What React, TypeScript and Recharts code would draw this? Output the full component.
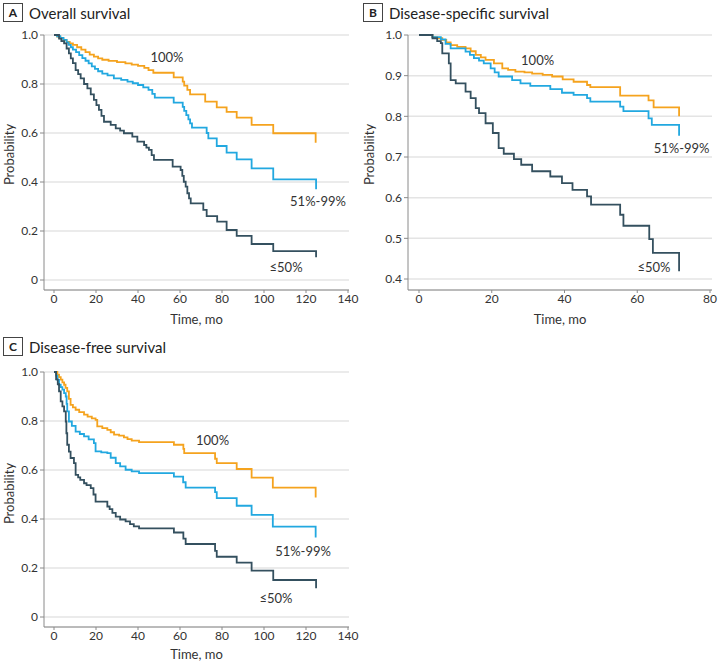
import { LineChart, Line, XAxis, YAxis, CartesianGrid, ReferenceDot } from "recharts";

// colours of the three tumour-regression groups
const ORANGE = "#F5A31E";
const BLUE = "#22A8E0";
const DARK = "#34505F";
const FONT = "Lato, 'Open Sans', sans-serif";

// A. Overall survival
const osTime100 = [0, 1.5, 3, 4.5, 6, 7.5, 9, 11, 13, 15, 17, 19, 21, 23, 26, 30, 34, 37, 40, 43, 45, 47.3, 57, 61.3, 62, 63.5, 64.8, 72, 77.5, 82.2, 87, 94.1, 104.4, 124.6];
const osSurv100 = [1, 0.993, 0.986, 0.979, 0.972, 0.966, 0.96, 0.95, 0.94, 0.93, 0.92, 0.912, 0.905, 0.899, 0.894, 0.889, 0.884, 0.879, 0.874, 0.866, 0.857, 0.846, 0.827, 0.81, 0.793, 0.776, 0.758, 0.728, 0.705, 0.686, 0.663, 0.633, 0.599, 0.56];
const osTime51 = [0, 1.5, 3, 4.5, 6, 7, 8, 9, 10.5, 12, 13.5, 15, 16.5, 18, 19.5, 21, 23, 25.5, 28.5, 32, 35, 37.5, 40, 42.5, 45, 46.8, 48, 57, 61.3, 62, 63, 64, 64.8, 65.7, 72.7, 73.5, 77.5, 82.2, 87, 94.1, 104.4, 124.8];
const osSurv51 = [1, 0.995, 0.988, 0.98, 0.97, 0.96, 0.95, 0.94, 0.93, 0.918, 0.906, 0.895, 0.884, 0.872, 0.862, 0.852, 0.842, 0.835, 0.823, 0.817, 0.81, 0.803, 0.796, 0.786, 0.776, 0.76, 0.744, 0.724, 0.707, 0.69, 0.673, 0.656, 0.639, 0.622, 0.6, 0.578, 0.547, 0.52, 0.492, 0.456, 0.411, 0.37];
const osTime50 = [0, 2.4, 3.5, 4.8, 6, 7.1, 8, 9, 10.3, 11.5, 12.7, 14.3, 15.9, 17.5, 19, 20.2, 21.4, 22.6, 23.8, 27, 29.4, 31.5, 33.3, 37.3, 39.7, 42.9, 44, 45.2, 46.5, 47.6, 56.5, 60.3, 61.1, 61.8, 62.7, 63.5, 64.3, 65.1, 71.1, 72.7, 77.7, 82.2, 87, 94.1, 104.4, 124.8];
const osSurv50 = [1, 0.985, 0.975, 0.966, 0.945, 0.925, 0.905, 0.885, 0.857, 0.84, 0.823, 0.8, 0.782, 0.758, 0.735, 0.714, 0.694, 0.67, 0.646, 0.633, 0.619, 0.61, 0.599, 0.585, 0.565, 0.551, 0.54, 0.531, 0.51, 0.49, 0.463, 0.449, 0.425, 0.401, 0.381, 0.354, 0.333, 0.313, 0.286, 0.261, 0.238, 0.204, 0.18, 0.147, 0.118, 0.093];

// B. Disease-specific survival
const dssTime100 = [0, 3.7, 5, 6.4, 7.5, 8.7, 10.5, 12.8, 14.2, 15.6, 17, 18.3, 20.6, 22.9, 24.5, 26.5, 29, 31.1, 34, 36.6, 39.5, 42.5, 46.2, 47.1, 55.3, 63.1, 64.5, 71.5];
const dssSurv100 = [1, 0.995, 0.992, 0.988, 0.982, 0.975, 0.971, 0.967, 0.96, 0.951, 0.945, 0.939, 0.93, 0.918, 0.914, 0.91, 0.908, 0.905, 0.902, 0.898, 0.891, 0.885, 0.877, 0.872, 0.851, 0.839, 0.822, 0.8];
const dssTime51 = [0, 3.7, 6, 7.3, 8.7, 12.8, 14, 15.1, 16.5, 17.8, 19.7, 20.8, 21.9, 25.6, 27.9, 30.6, 36.1, 39.3, 42.5, 46.2, 47.1, 55.3, 56.2, 63.1, 64, 71.5];
const dssSurv51 = [1, 0.995, 0.989, 0.978, 0.967, 0.959, 0.951, 0.943, 0.937, 0.93, 0.918, 0.908, 0.898, 0.889, 0.881, 0.875, 0.867, 0.858, 0.853, 0.845, 0.836, 0.824, 0.813, 0.795, 0.779, 0.752];
const dssTime50 = [0, 3.7, 5, 6, 6.4, 8.2, 8.7, 10.1, 12.8, 14.2, 15.6, 16.5, 18.3, 20.3, 21.9, 23.3, 26.1, 28.1, 31.1, 36.1, 39.3, 42.2, 46.2, 47.3, 55.3, 56.2, 63.3, 64.3, 71.5];
const dssSurv50 = [1, 0.992, 0.985, 0.98, 0.955, 0.93, 0.889, 0.881, 0.861, 0.845, 0.82, 0.808, 0.783, 0.759, 0.722, 0.708, 0.695, 0.681, 0.665, 0.652, 0.636, 0.619, 0.603, 0.583, 0.558, 0.531, 0.498, 0.464, 0.419];

// C. Disease-free survival
const dfsTime100 = [0, 1.6, 2.4, 3.2, 4, 4.8, 5.5, 6.3, 7.1, 7.9, 9, 10.3, 12, 14.3, 16, 18, 19.8, 20.6, 23, 25.4, 27, 28.6, 31, 33.3, 35, 37, 40.5, 57.1, 61.6, 62, 76.7, 77.5, 87, 94.1, 104.2, 124.6];
const dfsSurv100 = [1, 0.989, 0.979, 0.969, 0.958, 0.948, 0.935, 0.921, 0.89, 0.866, 0.856, 0.846, 0.836, 0.826, 0.818, 0.811, 0.805, 0.778, 0.771, 0.764, 0.754, 0.744, 0.74, 0.733, 0.726, 0.72, 0.714, 0.703, 0.686, 0.669, 0.646, 0.628, 0.604, 0.569, 0.528, 0.488];
const dfsTime51 = [0, 1, 1.6, 2.4, 3.2, 4, 4.8, 5.6, 6, 6.3, 7.1, 8.5, 10.3, 12.3, 14.3, 16.5, 19, 19.8, 22.5, 25.4, 27, 29.4, 31.5, 34.1, 37, 40.5, 57.1, 61.5, 62.7, 76.7, 77.5, 87, 94.1, 104.2, 124.6];
const dfsSurv51 = [1, 0.985, 0.968, 0.948, 0.938, 0.928, 0.914, 0.9, 0.87, 0.839, 0.798, 0.78, 0.757, 0.747, 0.737, 0.725, 0.71, 0.676, 0.672, 0.669, 0.65, 0.628, 0.615, 0.601, 0.594, 0.587, 0.573, 0.55, 0.528, 0.51, 0.485, 0.454, 0.417, 0.369, 0.324];
const dfsTime50 = [0, 1, 1.8, 2.4, 3.2, 4, 4.8, 5.6, 5.9, 6.3, 7.1, 7.9, 9.5, 10.3, 11.5, 12.5, 14.3, 15.5, 17.5, 18.8, 19.8, 25.4, 26.5, 27.8, 29.4, 31.5, 34.1, 36.2, 38, 40.5, 57.1, 61.6, 62.7, 76.7, 77.5, 87, 94.1, 104.4, 124.8];
const dfsSurv50 = [1, 0.97, 0.95, 0.921, 0.88, 0.86, 0.839, 0.798, 0.75, 0.703, 0.675, 0.649, 0.628, 0.58, 0.57, 0.56, 0.546, 0.538, 0.526, 0.5, 0.471, 0.451, 0.44, 0.425, 0.41, 0.398, 0.39, 0.379, 0.37, 0.362, 0.345, 0.32, 0.298, 0.27, 0.246, 0.222, 0.189, 0.151, 0.117];

const groups = ["100%", "51%-99%", "≤50%"];
const xTicks140 = [0, 20, 40, 60, 80, 100, 120, 140];
const xTicks80 = [0, 20, 40, 60, 80];
const yTicksFull = [0, 0.2, 0.4, 0.6, 0.8, 1.0];
const yTicksDss = [0.4, 0.5, 0.6, 0.7, 0.8, 0.9, 1.0];

const toRows = (t: number[], s: number[]) => t.map((v, i) => ({ t: v, s: s[i] }));

type Panel = {
  letter: string;
  title: string;
  series: { t: number[]; s: number[]; color: string }[];
  xMax: number;
  xTicks: number[];
  yMin: number;
  yTicks: number[];
  labelAt: [number, number][]; // where the group names sit, in data units
  width: number;
  height: number;
  margin: { top: number; right: number; left: number; bottom: number };
  yAxisWidth: number;
  xPad: { left: number; right: number };
  yPadBottom: number;
  xAxisHeight: number;
  yLabelShift: number;
};

function Title({ letter, title, left, top }: { letter: string; title: string; left: number; top: number }) {
  return (
    <div style={{ position: "absolute", left, top, display: "flex", alignItems: "center", fontFamily: FONT, color: "#222" }}>
      <div
        style={{
          width: 18,
          height: 17,
          border: "1px solid #444",
          display: "flex",
          alignItems: "center",
          justifyContent: "center",
          fontSize: 12,
          fontWeight: 700,
        }}
      >
        {letter}
      </div>
      <span style={{ marginLeft: 6, fontSize: 15 }}>{title}</span>
    </div>
  );
}

// rotated "Probability" title, nudged up a little from the axis middle
function ProbLabel(props: any) {
  const vb = props.viewBox || { x: 0, y: 0, width: 0, height: 0 };
  const x = vb.x + 9;
  const y = vb.y + vb.height / 2 - (props.shift || 0);
  return (
    <text
      x={x}
      y={y}
      transform={`rotate(-90, ${x}, ${y})`}
      textAnchor="middle"
      dominantBaseline="central"
      fill="#333"
      fontSize={13}
    >
      Probability
    </text>
  );
}

function SurvivalPanel({ p }: { p: Panel }) {
  return (
    <LineChart width={p.width} height={p.height} margin={p.margin} style={{ fontFamily: FONT }}>
      <CartesianGrid horizontal vertical={false} stroke="#e4e4e4" strokeWidth={1.5} />
      <XAxis
        type="number"
        dataKey="t"
        domain={[0, p.xMax]}
        ticks={p.xTicks}
        allowDuplicatedCategory={false}
        padding={p.xPad}
        height={p.xAxisHeight}
        stroke="#8a8a8a"
        tickSize={3}
        tickMargin={1}
        tick={{ fill: "#333", fontSize: 12 }}
        label={{ value: "Time, mo", position: "insideBottom", offset: 6, fill: "#333", fontSize: 13 }}
      />
      <YAxis
        type="number"
        domain={[p.yMin, 1]}
        ticks={p.yTicks}
        padding={{ top: 0, bottom: p.yPadBottom }}
        width={p.yAxisWidth}
        stroke="#8a8a8a"
        tickSize={4}
        tickMargin={2}
        tick={{ fill: "#333", fontSize: 12 }}
        tickFormatter={(v: number) => (v === 0 ? "0" : v.toFixed(1))}
        label={<ProbLabel shift={p.yLabelShift} />}
      />
      {p.series.map((sr, i) => (
        <Line
          key={i}
          data={toRows(sr.t, sr.s)}
          dataKey="s"
          type="stepAfter"
          stroke={sr.color}
          strokeWidth={1.8}
          dot={false}
          activeDot={false}
          isAnimationActive={false}
        />
      ))}
      {p.labelAt.map(([x, y], i) => (
        <ReferenceDot
          key={"l" + i}
          x={x}
          y={y}
          r={0}
          fill="none"
          stroke="none"
          label={{ value: groups[i], position: "center", fill: "#333", fontSize: 13 }}
        />
      ))}
    </LineChart>
  );
}

const panelA: Panel = {
  letter: "A",
  title: "Overall survival",
  series: [
    { t: osTime100, s: osSurv100, color: ORANGE },
    { t: osTime51, s: osSurv51, color: BLUE },
    { t: osTime50, s: osSurv50, color: DARK },
  ],
  xMax: 140,
  xTicks: xTicks140,
  yMin: 0,
  yTicks: yTicksFull,
  labelAt: [
    [53.8, 0.91],
    [125.7, 0.32],
    [110.5, 0.053],
  ],
  width: 360,
  height: 330,
  margin: { top: 35, right: 11, left: 0, bottom: 0 },
  yAxisWidth: 44,
  xPad: { left: 10, right: 1 },
  yPadBottom: 10,
  xAxisHeight: 40,
  yLabelShift: 8,
};

const panelB: Panel = {
  letter: "B",
  title: "Disease-specific survival",
  series: [
    { t: dssTime100, s: dssSurv100, color: ORANGE },
    { t: dssTime51, s: dssSurv51, color: BLUE },
    { t: dssTime50, s: dssSurv50, color: DARK },
  ],
  xMax: 80,
  xTicks: xTicks80,
  yMin: 0.4,
  yTicks: yTicksDss,
  labelAt: [
    [32.6, 0.937],
    [72.2, 0.72],
    [64.6, 0.4286],
  ],
  width: 358,
  height: 330,
  margin: { top: 35, right: 6, left: 0, bottom: 0 },
  yAxisWidth: 48,
  xPad: { left: 11, right: 2 },
  yPadBottom: 11,
  xAxisHeight: 40,
  yLabelShift: 8,
};

const panelC: Panel = {
  letter: "C",
  title: "Disease-free survival",
  series: [
    { t: dfsTime100, s: dfsSurv100, color: ORANGE },
    { t: dfsTime51, s: dfsSurv51, color: BLUE },
    { t: dfsTime50, s: dfsSurv50, color: DARK },
  ],
  xMax: 140,
  xTicks: xTicks140,
  yMin: 0,
  yTicks: yTicksFull,
  labelAt: [
    [75.5, 0.72],
    [118.6, 0.267],
    [105.7, 0.076],
  ],
  width: 360,
  height: 335,
  margin: { top: 42, right: 11, left: 0, bottom: 0 },
  yAxisWidth: 44,
  xPad: { left: 10, right: 1 },
  yPadBottom: 10,
  xAxisHeight: 38,
  yLabelShift: 6,
};

export default function App() {
  return (
    <div style={{ position: "absolute", left: 0, top: 0, width: 718, height: 665, background: "#fff", fontFamily: FONT }}>
      <div style={{ position: "absolute", left: 0, top: 0 }}>
        <SurvivalPanel p={panelA} />
      </div>
      <div style={{ position: "absolute", left: 360, top: 0 }}>
        <SurvivalPanel p={panelB} />
      </div>
      <div style={{ position: "absolute", left: 0, top: 330 }}>
        <SurvivalPanel p={panelC} />
      </div>
      <Title letter="A" title={panelA.title} left={3} top={3} />
      <Title letter="B" title={panelB.title} left={363} top={3} />
      <Title letter="C" title={panelC.title} left={3} top={337} />
    </div>
  );
}
